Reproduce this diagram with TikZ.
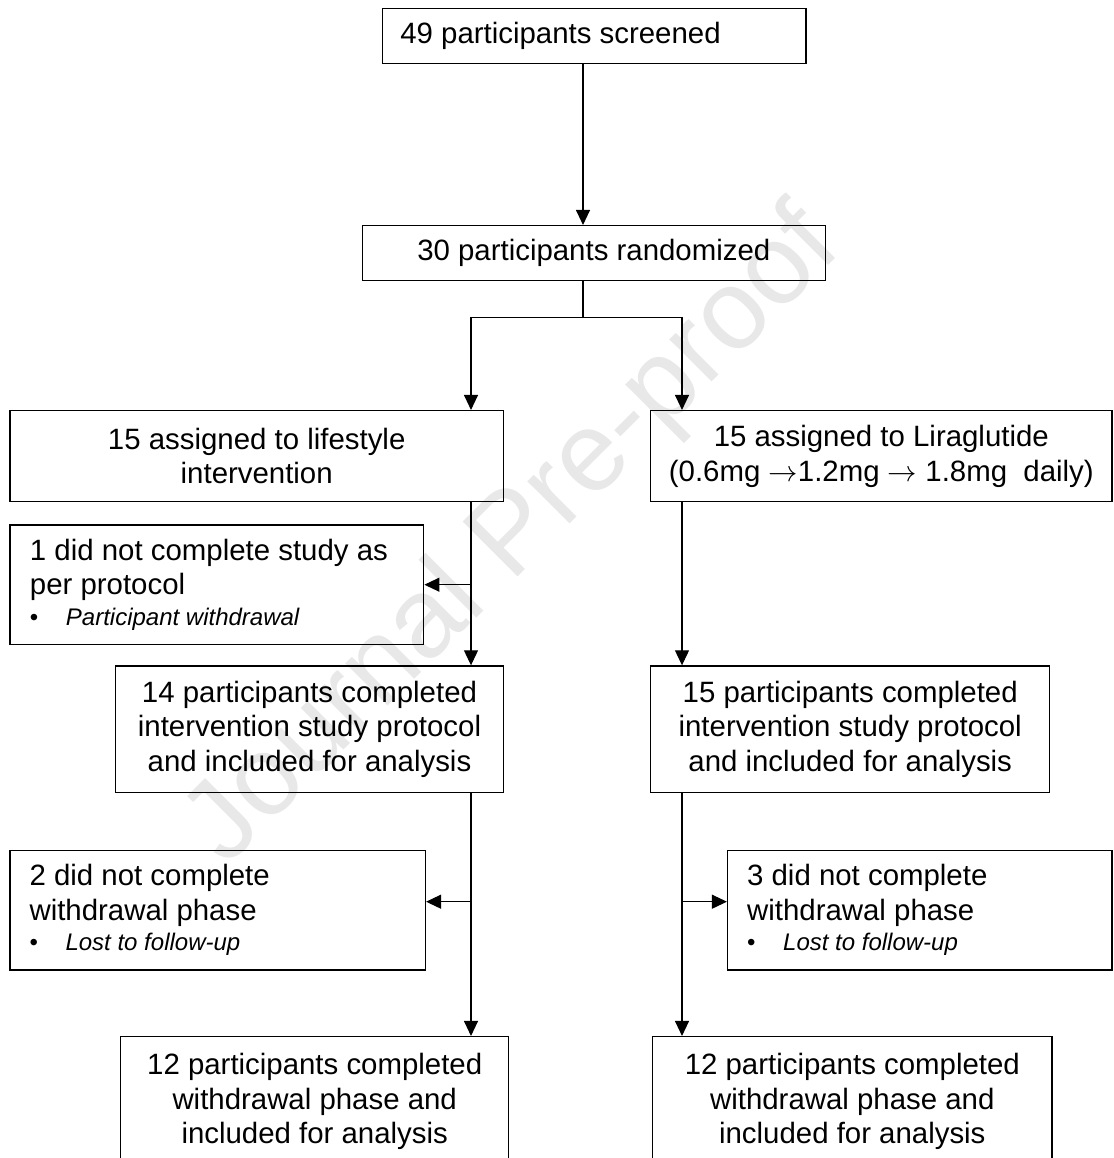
\documentclass[tikz,border=0pt]{standalone}
\usepackage{fix-cm}
\usepackage{fontspec}
\setmainfont{Liberation Sans}
\usetikzlibrary{arrows.meta}
\newcommand\msz{\fontsize{29.4pt}{34.5pt}\selectfont}
\newcommand\ssz{\fontsize{24pt}{30pt}\selectfont}
\newcommand\bul[1]{{\ssz\makebox[36pt][l]{•}\itshape #1}}
\newcommand\rarr{$\rightarrow$}
\tikzset{
  cbox/.style={draw, line width=1.5pt, inner sep=0pt, align=center, font=\msz},
  lbox/.style={draw, line width=1.5pt, inner ysep=0pt, align=flush left, font=\msz},
  arr/.style={line width=1.1pt, -{Triangle[length=15pt,width=14pt]}},
  ln/.style={line width=1.1pt},
}
\begin{document}
\begin{tikzpicture}[x=1pt,y=-1pt]
\useasboundingbox (0,0) rectangle (1113,1158);
\clip (0,0) rectangle (1113,1158);
\node[rotate=45, text=black!9, font=\fontsize{113pt}{113pt}\selectfont] (wm) at (515,538) {Journal Pre-proof};

\node[lbox, text width=387.7pt, inner xsep=18pt, minimum height=55pt] (scr) at (594.2,35.8) {49 participants screened};
\node[cbox, minimum width=463pt, minimum height=55pt] (rnd) at (593.8,253.2) {30 participants randomized};
\node[cbox, minimum width=493.3pt, minimum height=91pt] (life) at (256.7,456.2) {15 assigned to lifestyle\\intervention};
\node[cbox, minimum width=461.3pt, minimum height=91pt] (lira) at (881.3,456.2) {15 assigned to Liraglutide\\(0.6mg \rarr1.2mg \rarr{} 1.8mg~ daily)};
\node[lbox, text width=373.7pt, inner xsep=20pt, minimum height=119.3pt] (w1) at (216.8,584.7) {1 did not complete study as\\per protocol\\[-4pt]\bul{Participant withdrawal}};
\node[cbox, minimum width=387.6pt, minimum height=126.3pt] (c14) at (309.5,729.2) {14 participants completed\\intervention study protocol\\and included for analysis};
\node[cbox, minimum width=399pt, minimum height=126.3pt] (c15) at (850.2,729.2) {15 participants completed\\intervention study protocol\\and included for analysis};
\node[lbox, text width=376.3pt, inner xsep=19.5pt, minimum height=119.3pt] (w2) at (217.7,910.3) {2 did not complete\\withdrawal phase\\[-4pt]\bul{Lost to follow-up}};
\node[lbox, text width=345.3pt, inner xsep=19.5pt, minimum height=119.3pt] (w3) at (919.8,910.3) {3 did not complete\\withdrawal phase\\[-4pt]\bul{Lost to follow-up}};
\node[cbox, minimum width=388pt, minimum height=129.4pt] (f12a) at (314.7,1101.4) {12 participants completed\\withdrawal phase and\\included for analysis};
\node[cbox, minimum width=399.3pt, minimum height=129.4pt] (f12b) at (852.3,1101.4) {12 participants completed\\withdrawal phase and\\included for analysis};

\coordinate (cx) at (583,0);
\coordinate (lx) at (471,0);
\coordinate (rx) at (682,0);
\coordinate (sy) at (0,317.7);
\coordinate (by) at (0,901.7);

\draw[arr] (scr.south -| cx) -- (rnd.north -| cx);
\draw[ln] (rnd.south -| cx) -- (cx |- sy);
\draw[arr] (cx |- sy) -| (life.north -| lx);
\draw[arr] (cx |- sy) -| (lira.north -| rx);
\draw[arr] (life.south -| lx) -- (c14.north -| lx);
\draw[arr] (w1.east -| lx) -- (w1.east);
\draw[arr] (lira.south -| rx) -- (c15.north -| rx);
\draw[arr] (c14.south -| lx) -- (f12a.north -| lx);
\draw[arr] (lx |- by) -- (w2.east |- by);
\draw[arr] (c15.south -| rx) -- (f12b.north -| rx);
\draw[arr] (rx |- by) -- (w3.west |- by);
\end{tikzpicture}
\end{document}
